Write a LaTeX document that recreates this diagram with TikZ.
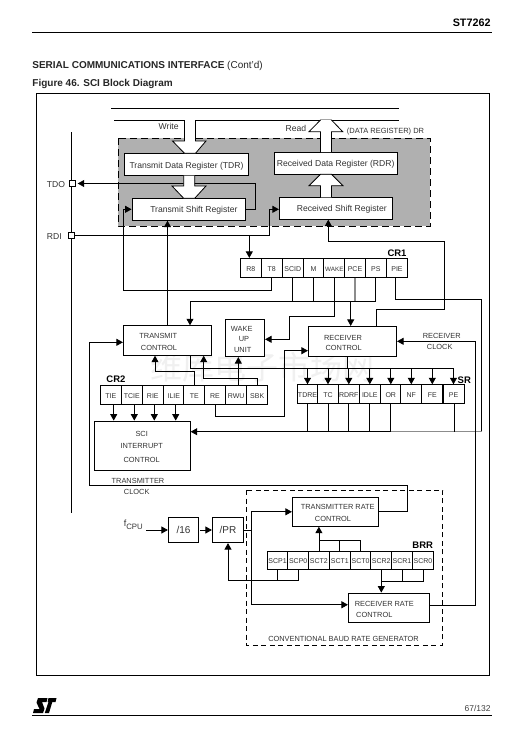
\documentclass[tikz,border=0pt]{standalone}
\usepackage{fontspec}
\setmainfont{Liberation Sans}
\newfontfamily\cjkfont{Noto Sans CJK SC}
\usetikzlibrary{arrows.meta}

\begin{document}
\begin{tikzpicture}[x=1pt, y=-1pt, line width=0.8pt, >={Triangle[length=6.5pt,width=7pt]}]

    % Define styles
    \tikzset{
        label8/.style={inner sep=0pt, text height=0.72em, text depth=0pt, text=black!80, font=\fontsize{8.6}{10}\selectfont},
        label7/.style={inner sep=0pt, text height=0.72em, text depth=0pt, text=black!80, font=\fontsize{7.4}{9}\selectfont},
        labelbold/.style={inner sep=0pt, text height=0.72em, text depth=0pt, font=\fontsize{9.5}{11}\bfseries\selectfont},
        pagehead/.style={anchor=west, inner sep=0pt, text height=0.72em, text depth=0pt, text=black!85, font=\fontsize{10}{12}\selectfont},
        box/.style={draw, fill=white, inner sep=0pt, text height=0.72em, text depth=0pt, text=black!80, font=\fontsize{8.6}{10}\selectfont},
        cell/.style={draw, fill=white, inner sep=0pt, minimum width=21pt, minimum height=19pt, text height=0.72em, text depth=0pt, text=black!80, font=\fontsize{7}{8}\selectfont},
        pad/.style={draw, fill=white, inner sep=0pt, minimum size=6pt},
        busarrow/.style={draw, fill=white},
        grayline/.style={black!45, line width=1.1pt},
        dashbox/.style={dash pattern=on 5pt off 3.5pt}
    }

    \useasboundingbox (0,0) rectangle (524,745);

    % 1. Page frame and headings
    \fill[white] (0,0) rectangle (524,745);
    \draw (32,32.5) -- (492,32.5);
    \draw (32,715) -- (492,715);
    \draw (36.5,93.5) rectangle (489,675);
    \node[anchor=east, inner sep=0pt, text height=0.72em, text depth=0pt, font=\fontsize{10.8}{12}\bfseries\selectfont] (PageName) at (491,23.3) {ST7262};
    \node[pagehead] (SectionTitle) at (32,65) {\textbf{SERIAL COMMUNICATIONS INTERFACE} (Cont'd)};
    \node[pagehead] (FigureTitle) at (32,82.5) {\textbf{Figure 46. SCI Block Diagram}};
    \node[anchor=east, inner sep=0pt, text height=0.72em, text depth=0pt, text=black!75, font=\fontsize{8.5}{10}\selectfont] (PageNumber) at (491,708) {67/132};

    % Logo
    \fill (38,698) -- (47.5,698) -- (46.5,702) -- (42,702) -- (44.5,708.5) -- (43,713) -- (33,713) -- (34,709) -- (39.5,709) -- (36.5,702.5) -- cycle;
    \fill (48.5,698) -- (56.5,698) -- (55.5,702) -- (52.3,702) -- (49,713) -- (44.8,713) -- (48.5,702) -- (47.6,702) -- cycle;

    % Watermark
    \node[anchor=base, inner sep=0pt, text height=0.62em, text depth=0.1em, text=black!6, font=\fontsize{32}{34}\cjkfont] (Watermark) at (262,379) {维库电子市场网};

    % 2. Data register area
    \fill[black!31] (118,138) rectangle (430,226);
    \draw[dash pattern=on 7pt off 4pt] (118,138) rectangle (430,226);
    \draw (111,108.5) -- (399,108.5);
    \draw (114,120) -- (184.5,120);
    \draw (195.5,120) -- (320.5,120);
    \draw (331.5,120) -- (399,120);

    \node[box, minimum width=124.4pt, minimum height=22.4pt] (TDR) at (186.5,164.5) {Transmit Data Register (TDR)};
    \node[box, minimum width=113.7pt, minimum height=22pt] (TSR) at (188.85,209.3) {\hspace{10pt}Transmit Shift Register};
    \node[box, minimum width=123.3pt, minimum height=22.3pt] (RDR) at (335.65,163.15) {Received Data Register (RDR)};
    \node[box, minimum width=113pt, minimum height=22pt] (RSR) at (335.8,208.3) {\hspace{12pt}Received Shift Register};

    \node[label8] (WriteLabel) at (168.7,126) {Write};
    \node[label8] (ReadLabel) at (296,128) {Read};
    \node[inner sep=0pt, text height=0.72em, text depth=0pt, text=black!80, font=\fontsize{7.5}{9}\selectfont] (DrLabel) at (385.5,130.3) {(DATA REGISTER) DR};

    % 3. Pins
    \draw (71.3,132) -- (71.3,513);
    \node[pad] (TdoPad) at (72.3,183.5) {};
    \node[pad] (RdiPad) at (71.7,235.3) {};
    \node[label8] (TdoLabel) at (56,183.7) {TDO};
    \node[label8] (RdiLabel) at (54.3,235.7) {RDI};

    % 4. Registers
    \node[labelbold] (Cr1Label) at (397,252.7) {CR1};
    \node[cell] (CellR8) at (250.8,267.8) {R8};
    \node[cell] (CellT8) at (271.7,267.8) {T8};
    \node[cell] (CellSCID) at (292.8,267.8) {SCID};
    \node[cell] (CellM) at (313.6,267.8) {M};
    \node[cell, font=\fontsize{6.3}{8}\selectfont] (CellWAKE) at (334.35,267.8) {WAKE};
    \node[cell] (CellPCE) at (355,267.8) {PCE};
    \node[cell] (CellPS) at (375.8,267.8) {PS};
    \node[cell] (CellPIE) at (397,267.8) {PIE};

    \node[labelbold] (Cr2Label) at (116,379.3) {CR2};
    \node[cell] (CellTIE) at (110.8,394.8) {TIE};
    \node[cell] (CellTCIE) at (131.8,394.8) {TCIE};
    \node[cell] (CellRIE) at (152.8,394.8) {RIE};
    \node[cell] (CellILIE) at (173.8,394.8) {ILIE};
    \node[cell] (CellTE) at (194.3,394.8) {TE};
    \node[cell] (CellRE) at (215,394.8) {RE};
    \node[cell] (CellRWU) at (236.2,394.8) {RWU};
    \node[cell] (CellSBK) at (257.2,394.8) {SBK};

    \node[labelbold] (SrLabel) at (464.3,379.7) {SR};
    \node[cell] (CellTDRE) at (307.5,394.2) {TDRE};
    \node[cell] (CellTC) at (328,394.2) {TC};
    \node[cell] (CellRDRF) at (348.8,394.2) {RDRF};
    \node[cell] (CellIDLE) at (369.8,394.2) {IDLE};
    \node[cell] (CellOR) at (390.8,394.2) {OR};
    \node[cell] (CellNF) at (411.3,394.2) {NF};
    \node[cell] (CellFE) at (432.3,394.2) {FE};
    \node[cell] (CellPE) at (453.5,394.2) {PE};

    \node[labelbold] (BrrLabel) at (422.7,545) {BRR};
    \node[cell, minimum height=18pt] (CellSCP1) at (277.5,560.3) {SCP1};
    \node[cell, minimum height=18pt] (CellSCP0) at (298.2,560.3) {SCP0};
    \node[cell, minimum height=18pt] (CellSCT2) at (318.9,560.3) {SCT2};
    \node[cell, minimum height=18pt] (CellSCT1) at (339.8,560.3) {SCT1};
    \node[cell, minimum height=18pt] (CellSCT0) at (360.6,560.3) {SCT0};
    \node[cell, minimum height=18pt] (CellSCR2) at (381.3,560.3) {SCR2};
    \node[cell, minimum height=18pt] (CellSCR1) at (402,560.3) {SCR1};
    \node[cell, minimum height=18pt] (CellSCR0) at (423,560.3) {SCR0};

    % 5. Control blocks
    \node[box, minimum width=88.4pt, minimum height=29.6pt] (TxCtl) at (167.5,340.5) {};
    \node[label7] (TxCtlA) at (158.3,335) {TRANSMIT};
    \node[label7] (TxCtlB) at (159,347.3) {CONTROL};

    \node[box, minimum width=88.4pt, minimum height=30pt] (RxCtl) at (352.5,341.3) {};
    \node[label7] (RxCtlA) at (343,337.3) {RECEIVER};
    \node[label7] (RxCtlB) at (343.7,347.3) {CONTROL};

    \node[box, minimum width=39.4pt, minimum height=37.4pt] (WakeUnit) at (245,338) {};
    \node[label7] (WakeA) at (241.7,328) {WAKE};
    \node[label7] (WakeB) at (244,338) {UP};
    \node[label7] (WakeC) at (242.7,349.3) {UNIT};

    \node[box, minimum width=96pt, minimum height=49.3pt] (SciCtl) at (142.3,445.65) {};
    \node[label7] (SciA) at (141.7,433.3) {SCI};
    \node[label7] (SciB) at (141.7,445.3) {INTERRUPT};
    \node[label7] (SciC) at (141.7,459) {CONTROL};

    \node[label7] (TxClkA) at (138,480.3) {TRANSMITTER};
    \node[label7] (TxClkB) at (136.7,491) {CLOCK};
    \node[label7] (RxClkA) at (441.7,335) {RECEIVER};
    \node[label7] (RxClkB) at (439.7,346) {CLOCK};

    % 6. Baud rate generator
    \draw[dashbox] (246.3,490) rectangle (442.7,645);
    \node[label7] (BaudLabel) at (343.5,638.3) {CONVENTIONAL BAUD RATE GENERATOR};
    \node[box, minimum width=86pt, minimum height=29pt] (TxRate) at (335.3,511.8) {};
    \node[label7] (TxRateA) at (337.7,506.3) {TRANSMITTER RATE};
    \node[label7] (TxRateB) at (333,518.3) {CONTROL};
    \node[box, minimum width=81.4pt, minimum height=29.3pt] (RxRate) at (389,607.65) {};
    \node[label7] (RxRateA) at (384.3,603.3) {RECEIVER RATE};
    \node[label7] (RxRateB) at (374.3,614.3) {CONTROL};

    \node[inner sep=0pt, text=black!80, font=\fontsize{9}{11}\selectfont] (Fcpu) at (133.3,525) {f\raisebox{-2.5pt}{\fontsize{7.8}{9}\selectfont CPU}};
    \node[box, font=\fontsize{10}{12}\selectfont, minimum width=30.4pt, minimum height=25.4pt] (DivSixteen) at (183.5,530) {/16};
    \node[box, font=\fontsize{10}{12}\selectfont, minimum width=31.4pt, minimum height=25.4pt] (DivPR) at (228,530) {/PR};

    % 7. Turning points
    \coordinate (TdoTurn) at (255.7,183.5);
    \coordinate (RdiTurn) at (269.3,235.3);
    \coordinate (TxLoop) at (123.3,290);
    \coordinate (CtlTurn) at (190,301.3);
    \coordinate (WakeTurn) at (289.3,316.7);
    \coordinate (RxUpA) at (444.3,309.3);
    \coordinate (RxUpB) at (328.3,241.7);
    \coordinate (PieTurn) at (481.7,299.3);
    \coordinate (IrqBus) at (481.7,431.7);
    \coordinate (SrBus) at (453.5,368);
    \coordinate (TeTurn) at (155,371.7);
    \coordinate (SbkTurn) at (203.7,378.3);
    \coordinate (ReTurn) at (284.3,416);
    \coordinate (TxClkUp) at (407.7,485.3);
    \coordinate (TxClkDown) at (89.3,485.3);
    \coordinate (RxClkTurn) at (475.7,341.3);
    \coordinate (PrFork) at (251.3,530);
    \coordinate (PrTurn) at (228,580.3);
    \coordinate (SctTurn) at (318.9,540.3);
    \coordinate (ScrTurn) at (381.3,581.3);

    % 8. Connectors of the data registers
    \draw[->, shorten >=2pt] (TSR.east) -| (TdoTurn) -- (TdoPad.east);
    \draw[->] (RdiPad.east) -- (RdiTurn) |- ([yshift=-1pt]RSR.west);
    \draw[->] ([xshift=-1.5pt]CellR8.north |- RdiPad.east) -- ([xshift=-1.5pt]CellR8.north);
    \draw[->] (CellT8.south) |- (TxLoop) |- (TSR.west);
    \draw[->] (TxCtl.north) -- (TxCtl.north |- TSR.south);
    \draw[->] ([xshift=23.8pt]RxCtl.north) |- (RxUpA) |- (RxUpB) -- (RxUpB |- RSR.south);

    % Bus arrows
    \draw[busarrow] (184.5,120) -- (184.5,141) -- (172.5,141) -- (184.5,153.3) -- (195.5,153.3) -- (206,141) -- (195.5,141) -- (195.5,120);
    \draw[busarrow] (183.7,175.7) -- (183.7,186) -- (172,186) -- (183.7,198.3) -- (194.7,198.3) -- (206,186) -- (194.7,186) -- (194.7,175.7);
    \draw[busarrow] (320.5,152) -- (320.5,131.7) -- (309,131.7) -- (320.5,120) -- (331.5,120) -- (342.7,131.7) -- (331.5,131.7) -- (331.5,152);
    \draw[busarrow] (320.5,197.3) -- (320.5,185.7) -- (309,185.7) -- (320.5,174.3) -- (331.5,174.3) -- (343,185.7) -- (331.5,185.7) -- (331.5,197.3);
    \draw[white, line width=1pt] (321,120) -- (331,120);

    % 9. Connectors below CR1
    \draw[grayline] (CellPCE.south) -- (CellPCE.south |- CtlTurn);
    \draw[->] (CellPS.south) |- (CtlTurn) -- (CtlTurn |- TxCtl.north);
    \draw (CellSCID.south) -- (CellSCID.south |- CtlTurn);
    \draw (CellM.south) -- (CellM.south |- CtlTurn);
    \draw[->] ([xshift=-1.8pt]RxCtl.north |- CtlTurn) -- ([xshift=-1.8pt]RxCtl.north);
    \draw[->] (CellWAKE.south) |- (WakeTurn) |- ([yshift=-1.3pt]WakeUnit.east);
    \draw ([xshift=-1.5pt]CellPIE.south) |- (PieTurn) -- (IrqBus);
    \draw[grayline] (IrqBus) -- (CellOR.south |- IrqBus);
    \draw[->] (CellOR.south |- IrqBus) -- (SciCtl.east |- IrqBus);

    % 10. Status register
    \draw (CtlTurn |- TxCtl.south) |- (SrBus);
    \draw ([xshift=-5.2pt]RxCtl.south) -- ([xshift=-5.2pt]RxCtl.south |- SrBus);
    \draw[->] (CellTDRE.north |- SrBus) -- (CellTDRE.north);
    \draw[->] (CellTC.north |- SrBus) -- (CellTC.north);
    \draw[->] (CellRDRF.north |- SrBus) -- (CellRDRF.north);
    \draw[->] (CellIDLE.north |- SrBus) -- (CellIDLE.north);
    \draw[->] (CellOR.north |- SrBus) -- (CellOR.north);
    \draw[->] (CellNF.north |- SrBus) -- (CellNF.north);
    \draw[->] (CellFE.north |- SrBus) -- (CellFE.north);
    \draw[->] (CellPE.north |- SrBus) -- (CellPE.north);
    \draw (CellTDRE.south) -- (CellTDRE.south |- IrqBus);
    \draw (CellTC.south) -- (CellTC.south |- IrqBus);
    \draw (CellRDRF.south) -- (CellRDRF.south |- IrqBus);
    \draw (CellIDLE.south) -- (CellIDLE.south |- IrqBus);
    \draw (CellOR.south) -- (CellOR.south |- IrqBus);
    \draw ([xshift=0.8pt]CellPE.south) -- ([xshift=0.8pt]CellPE.south |- IrqBus);

    % 11. Connectors of CR2
    \draw[->] (CellTE.north) |- (TeTurn) -- (TeTurn |- TxCtl.south);
    \draw[->] (CellSBK.north) |- (SbkTurn) -- (SbkTurn |- TxCtl.south);
    \draw[->] ([xshift=2.1pt]CellRWU.north) -- ([xshift=2.1pt]CellRWU.north |- WakeUnit.south);
    \draw[->] (CellRE.south) |- (ReTurn) |- ([yshift=-9.4pt]RxCtl.west);
    \draw[->] ([xshift=2.9pt]CellTIE.south) -- ([xshift=2.9pt]CellTIE.south |- SciCtl.north);
    \draw[->] ([xshift=2.5pt]CellTCIE.south) -- ([xshift=2.5pt]CellTCIE.south |- SciCtl.north);
    \draw[->] ([xshift=1.5pt]CellRIE.south) -- ([xshift=1.5pt]CellRIE.south |- SciCtl.north);
    \draw[->] ([xshift=1.9pt]CellILIE.south) -- ([xshift=1.9pt]CellILIE.south |- SciCtl.north);

    % 12. Clocks and baud rate
    \draw[->] (TxRate.east) -| (TxClkUp) -- (TxClkDown) |- ([yshift=-1.8pt]TxCtl.west);
    \draw[->] ([yshift=2.3pt]RxRate.east) -| (RxClkTurn) -- (RxCtl.east);
    \draw[->] ([xshift=3pt]Fcpu.east |- DivSixteen.west) -- (DivSixteen.west);
    \draw[->, shorten <=1.3pt] (DivSixteen.east) -- (DivPR.west);
    \draw (DivPR.east) -- (PrFork);
    \draw[->] (PrFork) |- (TxRate.west);
    \draw[->] (PrFork) |- ([yshift=2.9pt]RxRate.west);
    \draw[->] (CellSCP0.south) |- (PrTurn) -- (DivPR.south);
    \draw (CellSCP1.south) -- (CellSCP1.south |- PrTurn);
    \draw[->] (CellSCT2.north) -- (CellSCT2.north |- TxRate.south);
    \draw (CellSCT0.north) |- (SctTurn);
    \draw (CellSCT1.north) -- (CellSCT1.north |- SctTurn);
    \draw[->] (CellSCR2.south) -- (CellSCR2.south |- RxRate.north);
    \draw (CellSCR0.south) |- (ScrTurn);
    \draw (CellSCR1.south) -- (CellSCR1.south |- ScrTurn);

\end{tikzpicture}
\end{document}
